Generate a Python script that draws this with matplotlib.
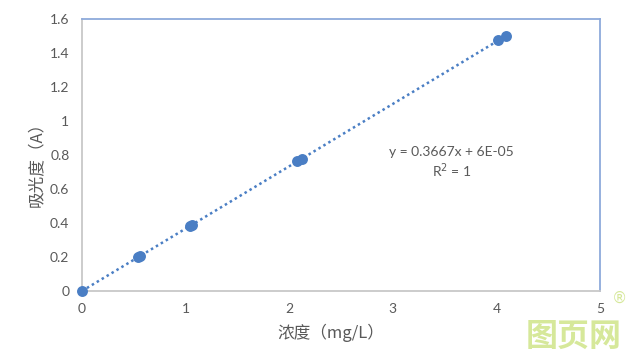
import matplotlib.pyplot as plt
import numpy as np

plt.rcParams['font.family'] = ['Noto Sans CJK SC', 'DejaVu Sans']

# concentration (mg/L) vs absorbance (A)
conc = [0.0, 0.54, 0.56, 1.04, 1.06, 2.08, 2.12, 4.02, 4.09]
absorb = [0.0, 0.198, 0.205, 0.381, 0.389, 0.763, 0.777, 1.474, 1.499]
slope = 0.3667
intercept = 0.00006
x_ticks = [0, 1, 2, 3, 4, 5]
y_ticks = [0, 0.2, 0.4, 0.6, 0.8, 1.0, 1.2, 1.4, 1.6]
y_labels = ['0', '0.2', '0.4', '0.6', '0.8', '1', '1.2', '1.4', '1.6']

blue = '#4a7ec4'
grey_txt = '#595959'

fig = plt.figure(figsize=(6.44, 3.57), dpi=100)
ax = fig.add_axes([0.1273, 0.1849, 0.8044, 0.7619])

# trendline
xs = np.array([0, max(conc)])
ax.plot(xs, slope * xs + intercept, linestyle=(0, (1, 1.3)), color=blue,
        linewidth=1.8, zorder=2)
ax.scatter(conc, absorb, s=62, color=blue, zorder=3, linewidths=0,
           clip_on=False)

ax.set_xlim(0, 5)
ax.set_ylim(0, 1.6)
ax.set_xticks(x_ticks)
ax.set_yticks(y_ticks)
ax.set_yticklabels(y_labels)
ax.tick_params(length=0, labelsize=10, colors=grey_txt, pad=9)
for lbl in ax.get_xticklabels() + ax.get_yticklabels():
    lbl.set_family('Lato')

for side in ['top', 'right']:
    ax.spines[side].set_color('#8eaadb')
    ax.spines[side].set_linewidth(1.3)
for side in ['left', 'bottom']:
    ax.spines[side].set_color('#c8c8c8')
    ax.spines[side].set_linewidth(1.3)

ax.text(3.57, 0.755, 'y = 0.3667x + 6E-05\nR$^2$ = 1', ha='center', va='center',
        fontsize=10, color=grey_txt, linespacing=1.2, family='Lato')

fig.text(0.514, 0.067, '浓度（mg/L）', ha='center', va='center', fontsize=12,
         color=grey_txt)
fig.text(0.057, 0.552, '吸光度（A）', ha='center', va='center', fontsize=12,
         color=grey_txt, rotation=90)

# watermark
fig.text(0.891, 0.012, '图页网', ha='center', va='bottom', fontsize=23,
         color='#d6e89a', fontweight='heavy')
fig.text(0.962, 0.165, '®', ha='center', va='center', fontsize=11,
         color='#d6e89a', family='DejaVu Sans')

fig.savefig('out.png', dpi=100)
